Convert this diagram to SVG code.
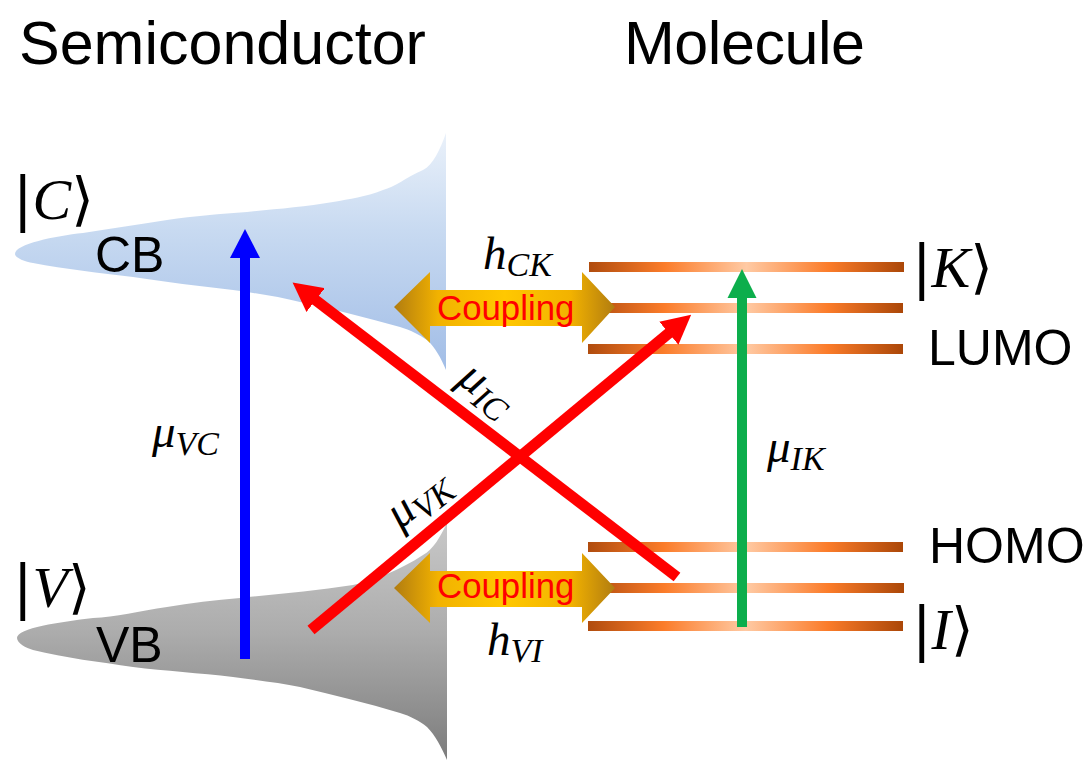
<svg xmlns="http://www.w3.org/2000/svg" width="1090" height="770" viewBox="0 0 1090 770">
<style>
text{font-family:"Liberation Sans",Arial,sans-serif;fill:#000}
.m{font-family:"Liberation Serif","DejaVu Serif",serif;font-style:italic}
.b{font-family:"DejaVu Sans",sans-serif;font-style:normal}
.t{font-size:61px}
.l{font-size:50px}
.c{font-size:34.8px;fill:#f00}
.big{font-size:47px}
.st{font-size:58px}
.sub{font-size:34px}
.lev{fill:url(#lev)}
.cp{fill:url(#cp)}
.bl{stroke:#00f;stroke-width:10;fill:none}
.gr{stroke:#0cae4c;stroke-width:10;fill:none}
.rd{stroke:#f00;stroke-width:11;fill:none}
</style>
<defs>
<linearGradient id="cb" gradientUnits="userSpaceOnUse" x1="0" y1="133" x2="0" y2="375"><stop offset="0" stop-color="#eaf1fa"/><stop offset=".4" stop-color="#c8daf1"/><stop offset="1" stop-color="#a0bce6"/></linearGradient>
<linearGradient id="vb" gradientUnits="userSpaceOnUse" x1="0" y1="523" x2="0" y2="760"><stop offset="0" stop-color="#c8c8c8"/><stop offset=".45" stop-color="#adadad"/><stop offset="1" stop-color="#7c7c7c"/></linearGradient>
<linearGradient id="lev"><stop offset="0" stop-color="#b04c0e"/><stop offset=".24" stop-color="#fb7c2a"/><stop offset=".5" stop-color="#ffcaa4"/><stop offset=".76" stop-color="#fb7c2a"/><stop offset="1" stop-color="#ab4708"/></linearGradient>
<linearGradient id="cp"><stop offset="0" stop-color="#b17c10"/><stop offset=".2" stop-color="#f2b200"/><stop offset=".5" stop-color="#ffc800"/><stop offset=".8" stop-color="#f2b200"/><stop offset="1" stop-color="#b17c10"/></linearGradient>
<marker id="hb" markerUnits="userSpaceOnUse" markerWidth="30" markerHeight="30" viewBox="0 0 30 30" refX="1" refY="15" orient="auto"><path d="M0 0L29 15L0 30Z" fill="#00f"/></marker>
<marker id="hg" markerUnits="userSpaceOnUse" markerWidth="30" markerHeight="30" viewBox="0 0 30 30" refX="1" refY="15" orient="auto"><path d="M0 .5L29 15L0 29.5Z" fill="#0cae4c"/></marker>
<marker id="hr" markerUnits="userSpaceOnUse" markerWidth="30" markerHeight="30" viewBox="0 0 30 30" refX="1" refY="15" orient="auto"><path d="M0 0L29 15L0 30Z" fill="#f00"/></marker>
</defs>
<rect width="1090" height="770" fill="#fff"/>
<text class="t" x="19" y="64">Semiconductor</text>
<text class="t" x="624" y="64" textLength="241">Molecule</text>
<g id="conduction-band">
<path d="M446 133C440 150 433 165 423 170C405 178 395 187 383 190C365 197 350 199 333 202C305 207 275 209 247 212C220 214 195 216 167 220C140 224 110 229 83 233C55 236 15 244 15 254C15 258 26 262 33 263C65 269 100 273 133 277C165 282 200 286 233 290C255 293 280 297 300 302C333 309 367 318 400 327C410 330 420 335 427 340C435 347 441 358 446 370Z" fill="url(#cb)"/>
<text class="l" x="95" y="272">CB</text>
</g>
<g id="valence-band">
<path d="M447 523C440 537 433 550 423 555C400 570 375 580 353 585C315 591 278 594 240 598C215 600 190 603 167 607C140 611 115 617 93 618C60 622 17 628 17 638C17 643 26 648 33 650C65 658 100 662 133 667C165 671 200 673 233 677C255 680 280 683 300 687C333 695 367 703 400 713C410 716 420 721 427 727C435 735 442 748 447 760Z" fill="url(#vb)"/>
<text class="l" x="96" y="662">VB</text>
</g>
<g id="molecule-levels">
<rect class="lev" x="589" y="262" width="315" height="10"/>
<rect class="lev" x="589" y="303" width="314" height="10"/>
<rect class="lev" x="588" y="344" width="315" height="10"/>
<rect class="lev" x="588" y="542" width="315" height="10"/>
<rect class="lev" x="589" y="583" width="315" height="10"/>
<rect class="lev" x="588" y="621" width="315" height="10"/>
</g>
<g id="connectors">
<g id="coupling-top">
<path class="cp" d="M394 307L430 272V290H582V272L615 307L582 343V326H430V343Z"/>
<text class="c" x="437" y="320">Coupling</text>
</g>
<g id="coupling-bottom">
<path class="cp" d="M394 588L430 553V571H582V553L615 588L582 623V607H430V623Z"/>
<text class="c" x="437" y="598">Coupling</text>
</g>
<line class="bl" x1="245" y1="659" x2="245" y2="257" marker-end="url(#hb)"/>
<line class="gr" x1="742" y1="627" x2="742" y2="297" marker-end="url(#hg)"/>
<line class="rd" x1="677" y1="577" x2="314.8" y2="299.5" marker-end="url(#hr)"/>
<line class="rd" x1="311" y1="630" x2="669.6" y2="332.6" marker-end="url(#hr)"/>
</g>
<g id="state-labels">
<text class="m st" x="13" y="219"><tspan class="b">|</tspan>C<tspan class="b">⟩</tspan></text>
<text class="m st" x="13" y="607"><tspan class="b">|</tspan>V<tspan class="b">⟩</tspan></text>
<text class="m st" x="912" y="287"><tspan class="b">|</tspan>K<tspan class="b">⟩</tspan></text>
<text class="m st" x="912" y="649"><tspan class="b">|</tspan>I<tspan class="b">⟩</tspan></text>
<text class="l" x="928" y="365">LUMO</text>
<text class="l" x="929" y="563">HOMO</text>
</g>
<g id="math-labels">
<text class="m big" x="483" y="269">h<tspan class="sub" dy="7">CK</tspan></text>
<text class="m big" x="487" y="655">h<tspan class="sub" dy="7">VI</tspan></text>
<text class="m big" x="152" y="447">μ<tspan class="sub" dy="8">VC</tspan></text>
<text class="m big" x="767" y="462">μ<tspan class="sub" dy="8">IK</tspan></text>
<text class="m big" transform="translate(456 382) rotate(38)">μ<tspan class="sub" dy="8">IC</tspan></text>
<text class="m big" transform="translate(400 530) rotate(-38)">μ<tspan class="sub" dy="8">VK</tspan></text>
</g>
</svg>
